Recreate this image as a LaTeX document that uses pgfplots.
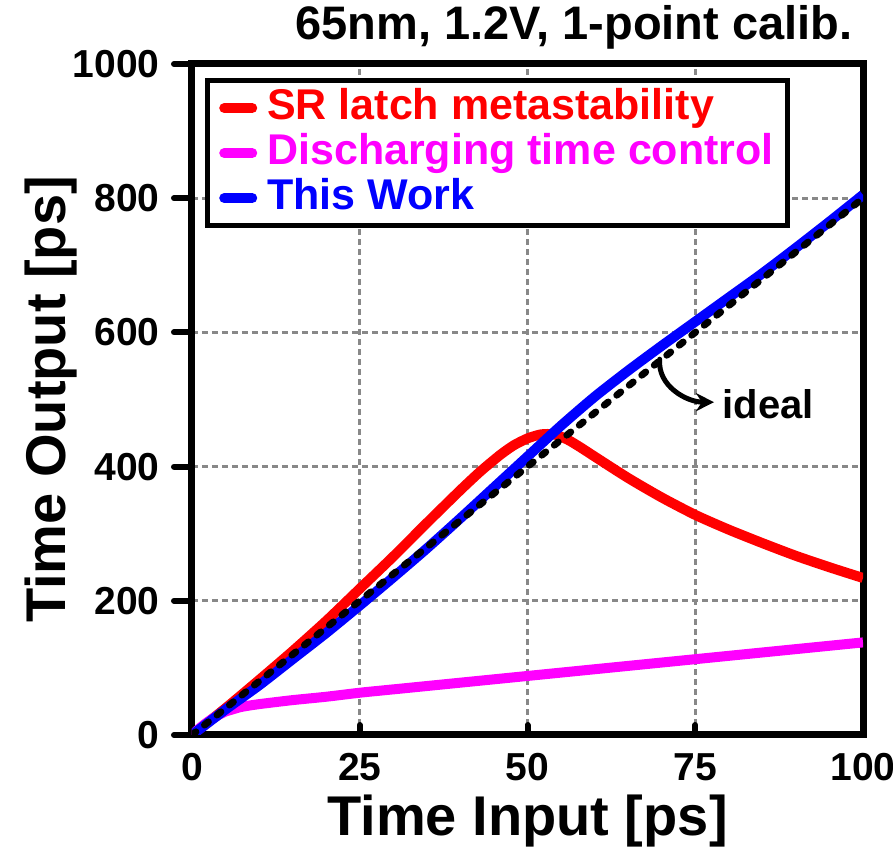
\documentclass[border=0pt]{standalone}
\usepackage{fontspec}
\setmainfont{Liberation Sans}
\usepackage{pgfplots}
\pgfplotsset{compat=1.18}
\usetikzlibrary{arrows.meta}
\definecolor{srred}{HTML}{FF0000}
\definecolor{dismag}{HTML}{FF00FF}
\definecolor{twblue}{HTML}{0000FF}
\definecolor{gridgray}{HTML}{888888}

\begin{document}
\begin{tikzpicture}
\begin{axis}[
  scale only axis, width=335.5pt, height=335.5pt,
  xmin=0, xmax=100, ymin=0, ymax=1000,
  xtick={0,25,50,75,100}, ytick={0,200,...,1000},
  tickpos=left, tick align=outside, major tick length=9pt,
  tick style={line width=3pt, black, line cap=round},
  every x tick/.append style={draw=none},
  axis line style={line width=3.5pt},
  grid=major, grid style={gridgray, line width=1.5pt, dash pattern=on 3pt off 2pt},
  /pgf/number format/assume math mode=true,
  /pgf/number format/1000 sep={},
  ticklabel style={font=\fontsize{19.5}{22}\selectfont\bfseries},
  xticklabel style={inner sep=0pt},
  yticklabel style={inner sep=0pt, xshift=-7pt},
  xlabel={Time Input [ps]}, ylabel={Time Output [ps]},
  label style={font=\fontsize{28}{32}\selectfont\bfseries, inner sep=0pt},
  xlabel style={at={(axis description cs:0.5,-0.089)}, anchor=north},
  ylabel style={at={(axis description cs:-0.171,0.5)}, anchor=south},
  legend style={at={(axis description cs:0.019,0.979)}, anchor=north west,
    draw=black, line width=2.5pt, font=\fontsize{21.5}{24}\selectfont\bfseries,
    inner xsep=6pt, inner ysep=3pt, row sep=1pt,
    nodes={inner sep=1pt, text height=15.5pt, text depth=4pt}},
  legend cell align=left,
  legend image code/.code={\draw[#1, line cap=round] (0pt,0pt) -- (14pt,0pt);
    \path (18pt,0pt);},
  every axis plot/.append style={line width=5pt, line join=round},
]
\addplot[srred, smooth, tension=0.4] coordinates {
  (0,0)(5,40)(10,82)(15,125)(20,170)(25,218)(30,266)(35,316)(40,365)
  (43,393)(46,418)(48,432)(50,442)(52,448)(54,448)(56,440)(58,428)
  (60,415)(65,383)(70,354)(75,328)(80,306)(85,286)(90,267)(95,250)(100,234)
};
\addlegendentry{\textcolor{srred}{SR latch metastability}}

\addplot[dismag, smooth, tension=0.4] coordinates {
  (0,0)(1,9)(2,17)(3,24)(4,30)(5,35)(6,38)(7,41)(8,43)(10,46)(15,52)
  (20,57)(25,63)(30,68)(40,78)(50,88)(60,98)(70,108)(75,113)(80,118)
  (90,128)(100,138)
};
\addlegendentry{\textcolor{dismag}{Discharging time control}\hspace{9pt}}

\addplot[twblue, smooth, tension=0.4] coordinates {
  (0,0)(5,38)(10,74)(15,113)(20,152)(25,193)(30,235)(35,278)(40,323)
  (45,369)(50,415)(55,461)(60,504)(65,543)(70,580)(75,616)(80,652)
  (85,688)(90,726)(95,765)(100,805)
};
\addlegendentry{\textcolor{twblue}{This Work}}

\addplot[black, line width=3.5pt, line cap=round, dash pattern=on 2.5pt off 5.5pt, forget plot]
  coordinates {(0,0)(100,800)};

\draw[line width=3pt, line cap=round] (axis cs:25,0) -- ++(0pt,5pt);
\draw[line width=3pt, line cap=round] (axis cs:50,0) -- ++(0pt,5pt);
\draw[line width=3pt, line cap=round] (axis cs:75,0) -- ++(0pt,5pt);

\draw[line width=2.5pt, line cap=round, -{Stealth[length=9pt,width=9pt]}]
  (axis cs:69.7,560) to[out=-95,in=180] (axis cs:77.8,496);
\node[anchor=base west, inner sep=0pt, font=\fontsize{20}{24}\selectfont\bfseries]
  at (axis cs:79.0,472) {ideal};
\end{axis}
\node[anchor=base east, inner sep=0pt, font=\fontsize{23.5}{26}\selectfont\bfseries]
  at ([xshift=-5pt,yshift=12pt]current axis.north east) {65nm, 1.2V, 1-point calib.};
\pgfresetboundingbox
\path[use as bounding box] ([xshift=-96pt,yshift=-57.5pt]current axis.south west)
  rectangle ([xshift=350.5pt,yshift=367.5pt]current axis.south west);
\end{tikzpicture}
\end{document}
